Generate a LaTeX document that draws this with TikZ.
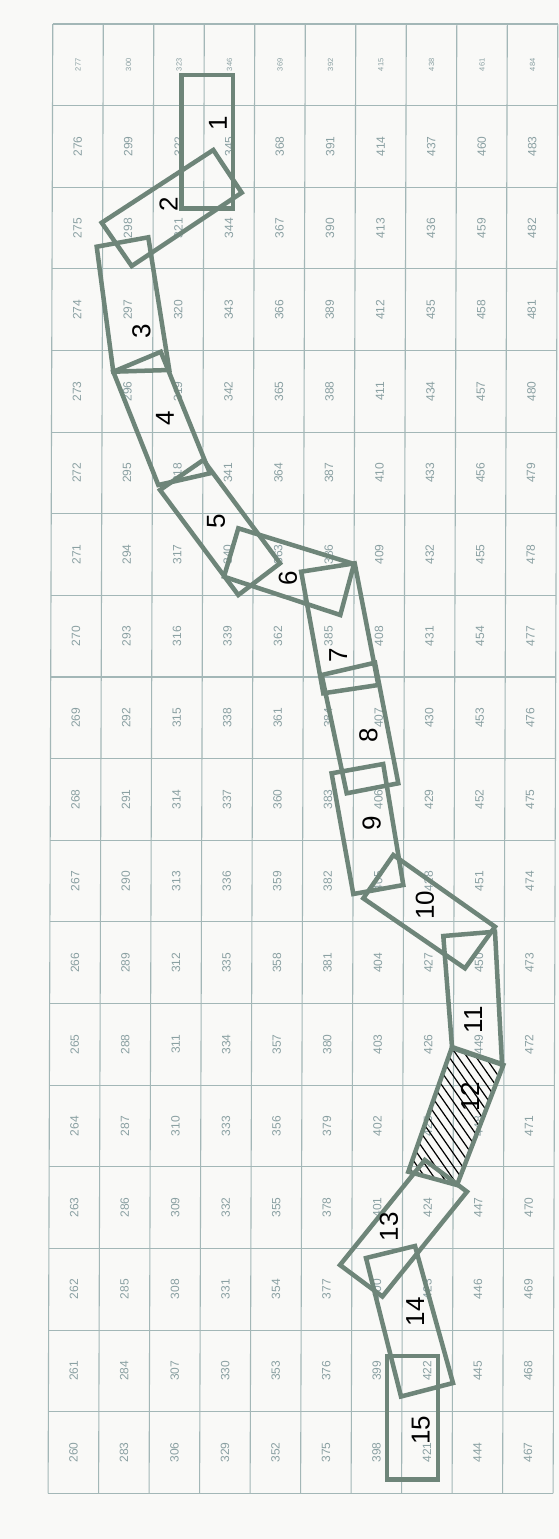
\documentclass[tikz,border=0pt]{standalone}
\usepackage{fontspec}
\setmainfont{Liberation Sans}
\definecolor{paper}{RGB}{249,249,247}
\definecolor{gridgrey}{RGB}{163,183,183}
\definecolor{numgrey}{RGB}{138,160,162}
\definecolor{plotgrey}{RGB}{110,133,121}

\begin{document}
\begin{tikzpicture}[x=1pt, y=-1pt,
    gridline/.style={gridgrey, line width=1.1pt},
    cellnum/.style={numgrey, rotate=90, inner sep=0pt, font=\fontsize{12}{12}\selectfont},
    cellnumtop/.style={cellnum, font=\fontsize{7.5}{7.5}\selectfont},
    plot/.style={plotgrey, line width=4.5pt, line join=miter},
    plotnum/.style={black, rotate=90, inner sep=0pt, font=\fontsize{26}{26}\selectfont},
    hatchline/.style={black, line width=1.2pt}]
    \fill[paper] (0,0) rectangle (559,1539);
    \useasboundingbox (0,0) rectangle (559,1539);

    % grid (the sheet is scanned slightly skewed)
    \foreach \k in {0,...,10}
        \draw[gridline] ({52.8+50.5*\k},24) -- ({48.1+50.5*\k},1493.3);
    \foreach \k in {0,...,18} {
        \pgfmathsetmacro{\yy}{24+81.63*\k}
        \pgfmathsetmacro{\xx}{52.8-0.0032*(\yy-24)}
        \draw[gridline] (\xx,\yy) -- ++(505,0);
    }

    % cell numbers
    \foreach \i in {0,...,9}
        \foreach \j in {0,...,17} {
            \pgfmathtruncatemacro{\num}{277-\j+23*\i}
            \pgfmathsetmacro{\yy}{24+81.63*(\j+0.5)}
            \pgfmathsetmacro{\xx}{52.8-0.0032*(\yy-24)+50.5*(\i+0.5)}
            \ifnum\j=0
                \node[cellnumtop] (n\num) at (\xx,\yy) {\num};
            \else
                \node[cellnum] (n\num) at (\xx,\yy) {\num};
            \fi
        }

    % hatching of plot 12
    \begin{scope}
        \clip (451.7,1048) -- (503.3,1065) -- (457,1185) -- (408.3,1171.7) -- cycle;
        \foreach \s in {-117,-108,...,117}
            \draw[hatchline] ({395+\s},1031) -- ++(120,172);
    \end{scope}

    % plots
    \draw[plot] (181.5,75) rectangle (233,208.3);
    \draw[plot] (213.3,150) -- (241.7,192.7) -- (131.7,266) -- (101.7,222.7) -- cycle;
    \draw[plot] (96.7,246.7) -- (148.3,237.3) -- (169.3,370) -- (113.3,371.7) -- cycle;
    \draw[plot] (113.3,371.7) -- (160.8,351.8) -- (210,473.3) -- (158.3,485) -- cycle;
    \draw[plot] (160,490) -- (203.3,460) -- (280,563.3) -- (238.3,595) -- cycle;
    \draw[plot] (238.3,528.3) -- (354,564) -- (340.3,615) -- (224,576.7) -- cycle;
    \draw[plot] (301.2,571.7) -- (354.7,563.3) -- (378.3,685) -- (323.3,693.3) -- cycle;
    \draw[plot] (321.7,675) -- (375,662.7) -- (398.3,783.3) -- (346.7,793.3) -- cycle;
    \draw[plot] (331.6,773.3) -- (383.2,764) -- (403.3,885) -- (353.3,894) -- cycle;
    \draw[plot] (393.3,855) -- (495,926.7) -- (465,968.3) -- (363.3,898.3) -- cycle;
    \draw[plot] (443.3,936) -- (495,931.7) -- (502,1064) -- (452,1047) -- cycle;
    \draw[plot] (451.7,1048) -- (503.3,1065) -- (457,1185) -- (408.3,1171.7) -- cycle;
    \draw[plot] (424.8,1160) -- (467,1191.7) -- (382.4,1296.5) -- (340,1265) -- cycle;
    \draw[plot] (366,1258) -- (415,1246) -- (453,1383) -- (401,1396.5) -- cycle;
    \draw[plot] (386.8,1356) rectangle (437.8,1479.3);

    % plot numbers
    \node[plotnum] (p1) at (218,123.3) {1};
    \node[plotnum] (p2) at (168.5,204.5) {2};
    \node[plotnum] (p3) at (141.5,331.7) {3};
    \node[plotnum] (p4) at (165,418.3) {4};
    \node[plotnum] (p5) at (216,521) {5};
    \node[plotnum] (p6) at (288,578.3) {6};
    \node[plotnum] (p7) at (338.3,655) {7};
    \node[plotnum] (p8) at (368.3,735) {8};
    \node[plotnum] (p9) at (371.7,823.3) {9};
    \node[plotnum] (p10) at (425,905) {10};
    \node[plotnum] (p11) at (473.3,1020) {11};
    \node[plotnum] (p12) at (470,1096.7) {12};
    \node[plotnum] (p13) at (389,1226.7) {13};
    \node[plotnum] (p14) at (415.3,1311.7) {14};
    \node[plotnum] (p15) at (420.7,1430) {15};
\end{tikzpicture}
\end{document}
